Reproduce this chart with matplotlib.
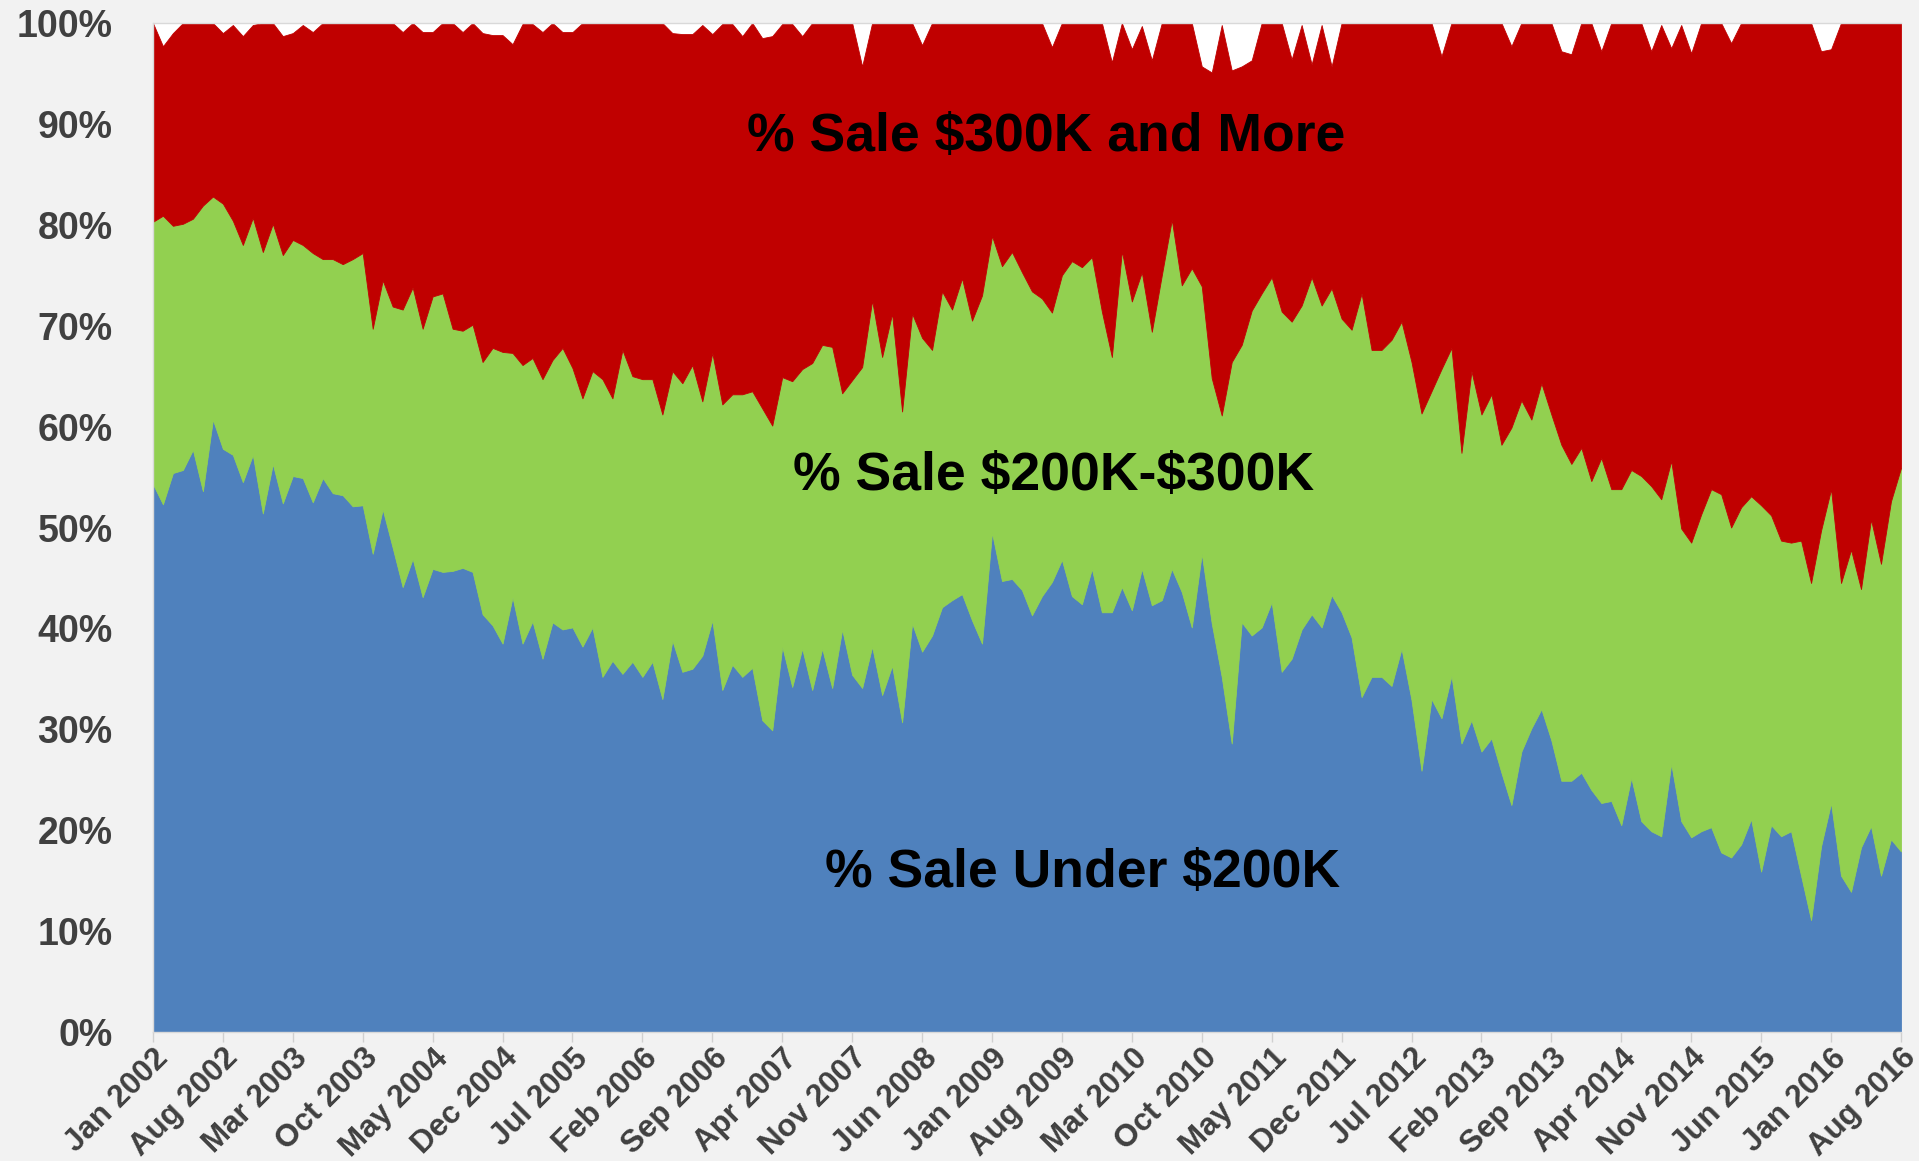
import numpy as np
import pandas as pd
import matplotlib
matplotlib.use("Agg")
import matplotlib.pyplot as plt

# monthly share of home sales by price band, Jan 2002 - Aug 2016
# values read off the chart as the stacked boundaries (percent)
months = pd.date_range("2002-01-01", "2016-08-01", freq="MS")

# top of blue band = % under $200K
cum_under_200k = [
    54.3, 52.3, 55.4, 55.7, 57.7, 53.6, 60.7, 57.8, 57.2, 54.5, 57.2, 51.4,
    56.3, 52.4, 55.1, 54.9, 52.5, 54.9, 53.4, 53.2, 52.1, 52.2, 47.4, 51.8,
    48.0, 44.1, 46.9, 43.1, 45.9, 45.6, 45.7, 46.0, 45.6, 41.4, 40.3, 38.5,
    43.1, 38.5, 40.7, 37.0, 40.6, 39.9, 40.1, 38.2, 40.1, 35.2, 36.8, 35.5,
    36.7, 35.2, 36.7, 33.0, 38.8, 35.7, 36.0, 37.3, 40.8, 33.9, 36.4, 35.2,
    36.1, 30.9, 29.9, 38.2, 34.2, 38.0, 33.9, 38.0, 34.1, 39.9, 35.4, 34.1,
    38.2, 33.4, 36.3, 30.7, 40.5, 37.7, 39.3, 42.1, 42.8, 43.4, 40.8, 38.5,
    49.5, 44.7, 44.9, 43.8, 41.3, 43.2, 44.6, 46.8, 43.2, 42.4, 45.9, 41.6,
    41.6, 44.1, 41.8, 45.9, 42.3, 42.8, 45.9, 43.6, 40.1, 47.4, 40.5, 35.2,
    28.6, 40.6, 39.3, 40.1, 42.6, 35.7, 37.0, 39.9, 41.4, 40.1, 43.3, 41.6,
    39.1, 33.2, 35.2, 35.2, 34.3, 38.0, 32.9, 25.9, 33.0, 31.1, 35.3, 28.6,
    30.9, 27.8, 29.1, 25.7, 22.5, 27.8, 30.1, 32.0, 28.9, 24.9, 24.9, 25.7,
    24.0, 22.7, 22.9, 20.5, 25.2, 20.9, 19.9, 19.4, 26.6, 20.9, 19.3, 19.9,
    20.3, 17.8, 17.3, 18.6, 21.1, 15.9, 20.5, 19.4, 19.9, 15.5, 11.1, 18.4,
    22.7, 15.5, 13.9, 18.3, 20.4, 15.5, 19.1, 17.9,
]

# top of green band = % under $300K
cum_under_300k = [
    80.3, 80.9, 79.9, 80.1, 80.6, 81.9, 82.8, 82.1, 80.4, 78.0, 80.7, 77.3,
    80.1, 77.0, 78.5, 78.0, 77.2, 76.6, 76.6, 76.1, 76.6, 77.2, 69.7, 74.5,
    71.9, 71.6, 73.8, 69.7, 72.9, 73.2, 69.7, 69.5, 70.1, 66.4, 67.8, 67.4,
    67.3, 66.1, 66.8, 64.7, 66.6, 67.8, 65.8, 62.8, 65.5, 64.7, 62.8, 67.6,
    65.0, 64.7, 64.7, 61.2, 65.5, 64.3, 66.1, 62.5, 67.3, 62.2, 63.2, 63.2,
    63.5, 61.8, 60.1, 64.9, 64.5, 65.7, 66.3, 68.1, 67.9, 63.3, 64.6, 65.9,
    72.5, 66.9, 71.2, 61.5, 71.2, 68.8, 67.6, 73.4, 71.6, 74.7, 70.5, 73.0,
    78.9, 75.9, 77.3, 75.3, 73.4, 72.7, 71.3, 75.0, 76.4, 75.8, 76.8, 71.4,
    66.9, 77.4, 72.4, 75.3, 69.4, 75.0, 80.5, 74.0, 75.7, 73.9, 64.8, 61.1,
    66.4, 68.1, 71.5, 73.2, 74.8, 71.4, 70.4, 72.0, 74.8, 72.0, 73.7, 70.7,
    69.6, 73.2, 67.6, 67.6, 68.6, 70.4, 66.4, 61.3, 63.5, 65.7, 67.8, 57.4,
    65.5, 61.2, 63.2, 58.2, 59.9, 62.6, 60.7, 64.3, 61.2, 58.2, 56.3, 57.9,
    54.6, 56.9, 53.8, 53.8, 55.7, 55.1, 54.1, 52.8, 56.6, 49.9, 48.5, 51.3,
    53.8, 53.3, 50.0, 52.0, 53.1, 52.2, 51.2, 48.7, 48.5, 48.7, 44.5, 49.7,
    53.8, 44.5, 47.8, 43.9, 50.8, 46.4, 52.6, 55.9,
]

# top of red band = total reported (sometimes a bit under 100)
cum_total = [
    100, 97.7, 99.0, 100, 100, 100, 100, 99.0, 99.8, 98.7, 99.8, 100,
    100, 98.7, 99.0, 99.8, 99.1, 100, 100, 100, 100, 100, 100, 100,
    100, 99.1, 100, 99.1, 99.1, 100, 100, 99.1, 100, 99.0, 98.8, 98.8,
    97.9, 99.9, 99.9, 99.1, 100, 99.1, 99.1, 100, 100, 100, 100, 100,
    100, 100, 100, 100, 99.0, 98.9, 98.9, 99.8, 98.9, 99.9, 99.9, 98.7,
    100, 98.5, 98.7, 99.9, 99.9, 98.7, 100, 100, 100, 100, 100, 95.7,
    100, 100, 100, 100, 100, 97.8, 100, 100, 100, 100, 100, 100,
    100, 100, 100, 100, 100, 100, 97.6, 100, 100, 100, 100, 100,
    96.1, 100, 97.4, 99.7, 96.3, 100, 100, 100, 100, 95.7, 95.1, 99.8,
    95.3, 95.7, 96.3, 100, 100, 100, 96.4, 99.8, 95.9, 99.8, 95.7, 100,
    100, 100, 100, 100, 100, 100, 100, 100, 100, 96.7, 100, 100,
    100, 100, 100, 100, 97.7, 100, 100, 100, 100, 97.2, 96.9, 100,
    100, 97.2, 100, 100, 100, 100, 97.2, 99.8, 97.5, 99.8, 97.0, 100,
    100, 100, 98.0, 100, 100, 100, 100, 100, 100, 100, 100, 97.2,
    97.4, 100, 100, 100, 100, 100, 100, 100,
]

series_names = [r"% Sale Under \$200K", r"% Sale \$200K-\$300K", r"% Sale \$300K and More"]
series_colors = ["#4f81bd", "#92d050", "#c00000"]

# turn the stacked boundaries back into band shares
share_under_200k = np.array(cum_under_200k)
share_200_300k = np.array(cum_under_300k) - share_under_200k
share_300k_plus = np.array(cum_total) - np.array(cum_under_300k)

x = np.arange(len(months))
tick_idx = x[::7]
tick_labels = months[::7].strftime("%b %Y")

plt.rcParams["font.family"] = ["Liberation Sans", "DejaVu Sans"]
plt.rcParams["font.weight"] = "bold"

fig = plt.figure(figsize=(19.19, 11.61), dpi=100, facecolor="#f2f2f2")
ax = fig.add_axes([0.0797, 0.1111, 0.9109, 0.8691])
ax.set_facecolor("white")

polys = ax.stackplot(x, share_under_200k, share_200_300k, share_300k_plus,
                     colors=series_colors, linewidth=0)
for p, c in zip(polys, series_colors):
    p.set_edgecolor(c)
    p.set_linewidth(0.6)

ax.set_xlim(x[0], x[-1])
ax.set_ylim(0, 100)

ax.set_yticks(np.arange(0, 101, 10))
ax.set_yticklabels([f"{v}%" for v in range(0, 101, 10)])
ax.tick_params(axis="y", length=0, pad=29, labelsize=27, labelcolor="#404040")

ax.set_xticks(tick_idx)
ax.set_xticklabels(tick_labels, rotation=45, ha="right", rotation_mode="anchor")
ax.tick_params(axis="x", length=7, width=1, color="#d0d0d0", pad=1,
               labelsize=22.5, labelcolor="#404040")

ax.spines["right"].set_visible(False)
for side in ["left", "bottom", "top"]:
    ax.spines[side].set_color("#d9d9d9")
    ax.spines[side].set_linewidth(1)

# band labels sit inside the areas
label_pos = [(0.532, 0.158), (0.5155, 0.551), (0.511, 0.887)]
for name, (lx, ly) in zip(series_names, label_pos):
    ax.text(lx, ly, name, transform=ax.transAxes, ha="center", va="center",
            fontsize=38.5, fontweight="bold", color="black")

fig.savefig("out.png", dpi=100, facecolor=fig.get_facecolor())
